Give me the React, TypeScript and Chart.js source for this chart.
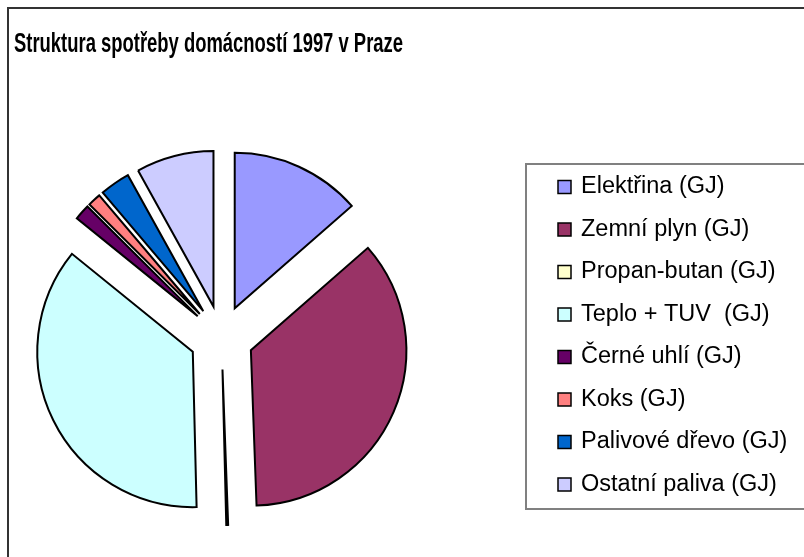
import React, { useEffect, useRef } from "react";
import { Chart, registerables } from "chart.js";

Chart.register(...registerables);

const TITLE = "Struktura spotřeby domácností 1997 v Praze";

const categories = [
  "Elektřina (GJ)",
  "Zemní plyn (GJ)",
  "Propan-butan (GJ)",
  "Teplo + TUV  (GJ)",
  "Černé uhlí (GJ)",
  "Koks (GJ)",
  "Palivové dřevo (GJ)",
  "Ostatní paliva (GJ)",
];

const values = [13.56, 35.86, 0.19, 36.22, 1.62, 1.36, 3.13, 8.06];

const colors = [
  "#9999FF",
  "#993366",
  "#FFFFCC",
  "#CCFFFF",
  "#660066",
  "#FF8080",
  "#0066CC",
  "#CCCCFF",
];

const EXPLODE = 32;

const explodePlugin = {
  id: "explode",
  beforeDatasetDraw(chart: any, args: any) {
    args.meta.data.forEach((arc: any) => {
      const mid = (arc.startAngle + arc.endAngle) / 2;
      arc._ox = arc.x;
      arc._oy = arc.y;
      arc.x = arc.x + Math.cos(mid) * EXPLODE;
      arc.y = arc.y + Math.sin(mid) * EXPLODE;
    });
  },
  afterDatasetDraw(chart: any, args: any) {
    args.meta.data.forEach((arc: any) => {
      arc.x = arc._ox;
      arc.y = arc._oy;
    });
  },
};

const decorPlugin = {
  id: "decor",
  beforeDraw(chart: any) {
    const ctx = chart.ctx;
    ctx.save();
    ctx.fillStyle = "#ffffff";
    ctx.fillRect(0, 0, chart.width, chart.height);
    ctx.restore();
  },
  afterDraw(chart: any) {
    const ctx = chart.ctx;
    ctx.save();
    // outer frame
    ctx.strokeStyle = "#333333";
    ctx.lineWidth = 2;
    ctx.strokeRect(8, 8, chart.width + 20, chart.height + 20);

    // title (condensed bold)
    ctx.fillStyle = "#000000";
    ctx.font = 'bold 27px "Liberation Sans", Arial, sans-serif';
    ctx.textBaseline = "alphabetic";
    const w = ctx.measureText(TITLE).width;
    ctx.save();
    ctx.translate(14, 52);
    ctx.scale(389 / w, 1);
    ctx.fillText(TITLE, 0, 0);
    ctx.restore();

    // legend box
    ctx.strokeStyle = "#808080";
    ctx.lineWidth = 2;
    ctx.strokeRect(526, 164, 400, 345);

    const labels = chart.data.labels as string[];
    const bg = chart.data.datasets[0].backgroundColor as string[];
    ctx.font = '23.5px "Liberation Sans", Arial, sans-serif';
    labels.forEach((lab, i) => {
      const cy = 187 + i * 42.5;
      ctx.fillStyle = bg[i];
      ctx.fillRect(558, cy - 6.5, 13, 13);
      ctx.strokeStyle = "#000000";
      ctx.lineWidth = 1.5;
      ctx.strokeRect(558, cy - 6.5, 13, 13);
      ctx.fillStyle = "#000000";
      ctx.fillText(lab, 581, cy + 6.3);
    });
    ctx.restore();
  },
};

export default function App() {
  const ref = useRef<HTMLCanvasElement | null>(null);
  useEffect(() => {
    if (!ref.current) return;
    const chart = new Chart(ref.current, {
      type: "pie",
      data: {
        labels: categories,
        datasets: [
          {
            data: values,
            backgroundColor: colors,
            borderColor: "#000000",
            borderWidth: 2,
            borderJoinStyle: "miter",
          } as any,
        ],
      },
      options: {
        responsive: false,
        animation: false,
        radius: 155.5,
        layout: { padding: { left: 21.5, right: 382.5, top: 137.5, bottom: 19.5 } },
        plugins: {
          legend: { display: false },
          title: { display: false },
          tooltip: { enabled: false },
        },
      } as any,
      plugins: [explodePlugin, decorPlugin],
    });
    return () => chart.destroy();
  }, []);
  return (
    <div style={{ position: "absolute", left: 0, top: 0, width: 804, height: 557 }}>
      <canvas ref={ref} width={804} height={557} />
    </div>
  );
}
